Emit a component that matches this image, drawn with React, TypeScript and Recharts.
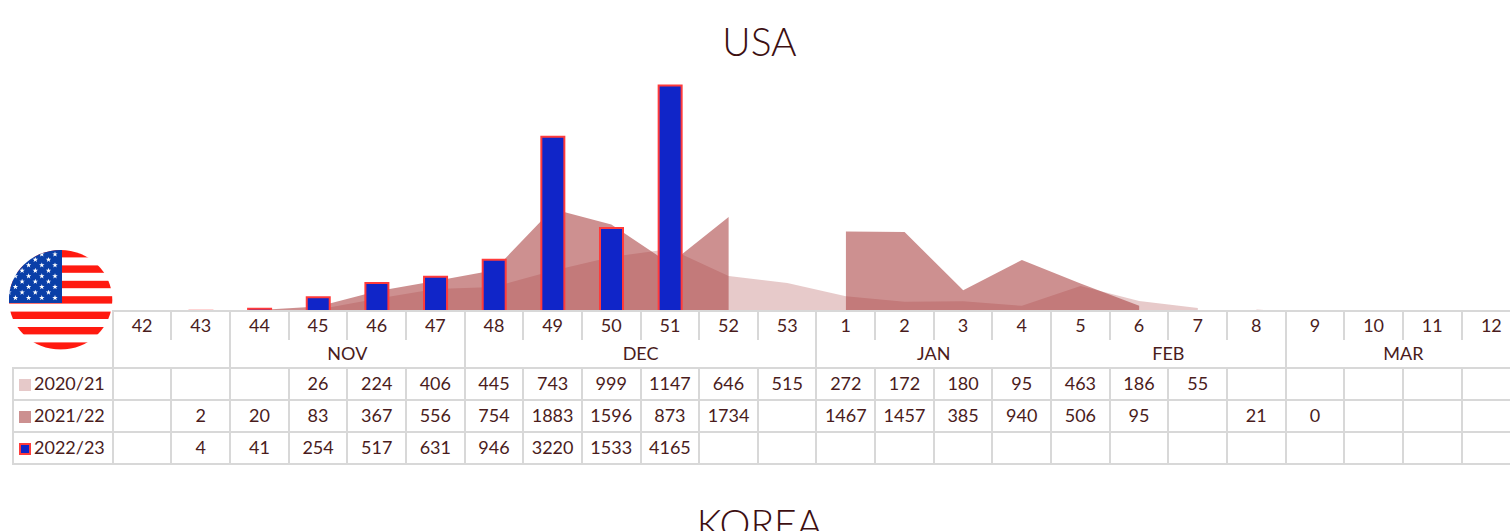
import { ComposedChart, Area, Bar, XAxis, YAxis } from "recharts";

const WEEKS = ["42", "43", "44", "45", "46", "47", "48", "49", "50", "51", "52", "53", "1", "2", "3", "4", "5", "6", "7", "8", "9", "10", "11", "12"];
const N = null;
const S2021 = [N, N, N, 26, 224, 406, 445, 743, 999, 1147, 646, 515, 272, 172, 180, 95, 463, 186, 55, N, N, N, N, N];
const S2122 = [N, 2, 20, 83, 367, 556, 754, 1883, 1596, 873, 1734, N, 1467, 1457, 385, 940, 506, 95, N, 21, 0, N, N, N];
const S2223 = [N, 4, 41, 254, 517, 631, 946, 3220, 1533, 4165, N, N, N, N, N, N, N, N, N, N, N, N, N, N];
const MONTHS: [string, number][] = [["", 2], ["NOV", 4], ["DEC", 6], ["JAN", 4], ["FEB", 4], ["MAR", 4]];

const FONT = "Lato, sans-serif";
const TEXT = "#4a1c1c";
const GRID = "#d8d8d8";
const LEFT = 112.8;
const COL = 58.65;

const data = WEEKS.map((w, i) => ({ week: i + "-" + w, a: S2021[i], b: S2122[i], c: S2223[i] }));

const ROWS = [
  { label: "2020/21", values: S2021, swatch: { background: "#e6c9c9" } },
  { label: "2021/22", values: S2122, swatch: { background: "#cc9090" } },
  { label: "2022/23", values: S2223, swatch: { background: "#1025c8", border: "2px solid #ff3b3b", boxSizing: "border-box" as const } },
];

function Flag() {
  const stripes = [0, 1, 2, 3, 4, 5, 6];
  const stars: [number, number][] = [];
  for (let r = 0; r < 9; r++) {
    const count = r % 2 === 0 ? 5 : 4;
    for (let c = 0; c < count; c++) {
      stars.push([(r % 2 === 0 ? 55 : 48.5) - c * 13.2, 254.3 + r * 5.45]);
    }
  }
  return (
    <svg width={1510} height={531} style={{ position: "absolute", left: 0, top: 0, pointerEvents: "none" }}>
      <defs>
        <clipPath id="flag-clip">
          <ellipse cx={60.6} cy={299.8} rx={51.7} ry={49.8} />
        </clipPath>
      </defs>
      <g clipPath="url(#flag-clip)">
        <rect x={9} y={250} width={104} height={100} fill="#fff" />
        {stripes.map((i) => (
          <rect key={i} x={9} y={250 + i * 15.4} width={104} height={7.4} fill="#ff1a10" />
        ))}
        <rect x={9} y={250} width={53} height={53} fill="#0a3fa8" />
        {stars.map(([x, y], i) => (
          <polygon
            key={i}
            transform={`translate(${x},${y})`}
            fill="#fff"
            points="0,-2.8 0.7,-0.9 2.7,-0.9 1.1,0.3 1.7,2.3 0,1.1 -1.7,2.3 -1.1,0.3 -2.7,-0.9 -0.7,-0.9"
          />
        ))}
      </g>
    </svg>
  );
}

function DataTable() {
  const line = `2px solid ${GRID}`;
  const cell = { textAlign: "center" as const, padding: "0 0 2px 0", fontSize: 18, color: TEXT, overflow: "hidden", whiteSpace: "nowrap" as const };
  return (
    <table
      style={{
        position: "absolute",
        left: 12,
        top: 310,
        borderCollapse: "collapse",
        tableLayout: "fixed",
        width: 99.8 + COL * WEEKS.length,
        fontFamily: FONT,
      }}
    >
      <colgroup>
        <col style={{ width: 99.8 }} />
        {WEEKS.map((w, i) => (
          <col key={i} style={{ width: COL }} />
        ))}
      </colgroup>
      <tbody>
        <tr style={{ height: 29 }}>
          <td />
          {WEEKS.map((w, i) => (
            <td key={i} style={{ ...cell, paddingBottom: 3, borderTop: line, borderLeft: line, verticalAlign: "middle" }}>
              {w}
            </td>
          ))}
        </tr>
        <tr style={{ height: 28 }}>
          <td />
          {MONTHS.map(([m, span], i) => (
            <td key={i} colSpan={span} style={{ ...cell, borderLeft: line, borderBottom: line }}>
              {m}
            </td>
          ))}
        </tr>
        {ROWS.map((row) => (
          <tr key={row.label} style={{ height: 32 }}>
            <td style={{ ...cell, border: line, textAlign: "left" }}>
              <span
                style={{
                  display: "inline-block",
                  width: 12,
                  height: 12,
                  marginLeft: 5,
                  marginRight: 3,
                  verticalAlign: -1,
                  ...row.swatch,
                }}
              />
              {row.label}
            </td>
            {row.values.map((v, i) => (
              <td key={i} style={{ ...cell, border: line }}>
                {v === null ? "" : v}
              </td>
            ))}
          </tr>
        ))}
      </tbody>
    </table>
  );
}

export default function App() {
  const title = { position: "absolute" as const, left: 0, width: 1519, textAlign: "center" as const, fontFamily: FONT, fontSize: 39, fontWeight: 300, color: "#3d0f12" };
  return (
    <div style={{ position: "absolute", left: 0, top: 0, width: 1510, height: 531, overflow: "hidden", background: "#fff" }}>
      <div style={{ ...title, top: 18 }}>USA</div>
      <div style={{ position: "absolute", left: 0, top: 0 }}>
        <ComposedChart
          width={LEFT + COL * WEEKS.length}
          height={311}
          data={data}
          barCategoryGap={0}
          margin={{ top: 85.5, right: 0, bottom: 0, left: LEFT }}
        >
          <XAxis dataKey="week" hide />
          <YAxis hide domain={[0, 4165]} />
          <Area dataKey="a" type="linear" stroke="none" fill="#a84040" fillOpacity={0.28} isAnimationActive={false} />
          <Area dataKey="b" type="linear" stroke="none" fill="#a84040" fillOpacity={0.58} isAnimationActive={false} />
          <Bar dataKey="c" barSize={23} fill="#1025c8" stroke="#ff3b3b" strokeWidth={2} isAnimationActive={false} />
        </ComposedChart>
      </div>
      <DataTable />
      <Flag />
      <div style={{ ...title, top: 500 }}>KOREA</div>
    </div>
  );
}
